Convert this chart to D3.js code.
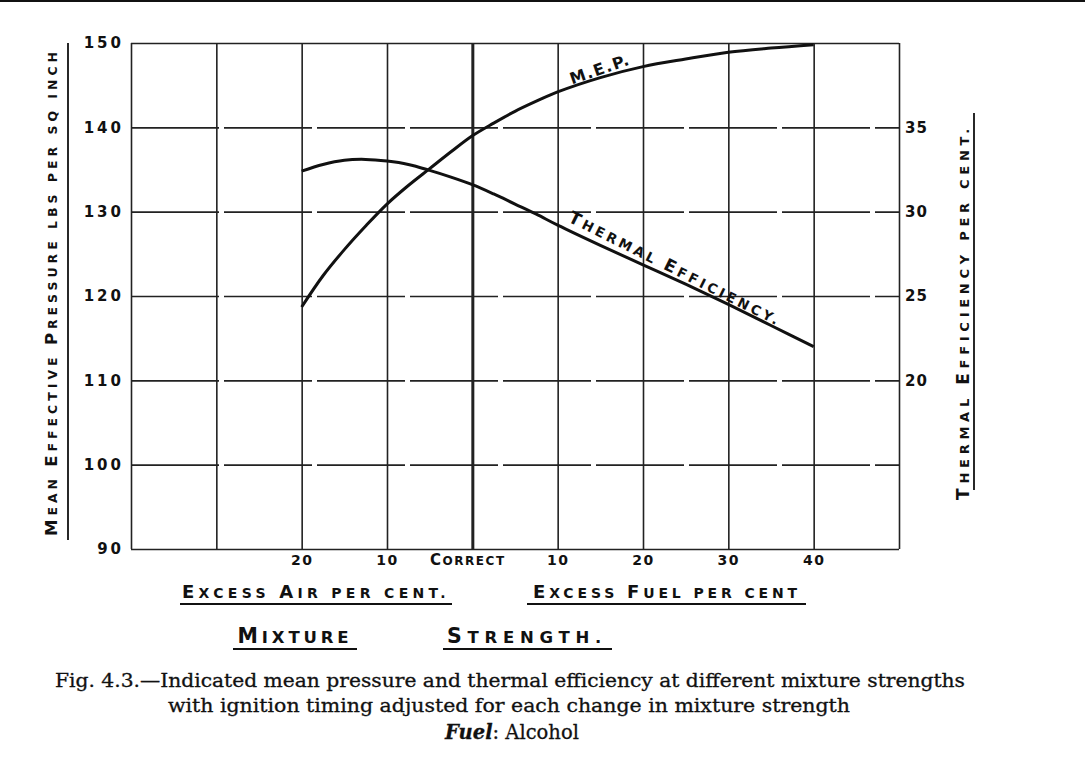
<!DOCTYPE html>
<html>
    <head>
        <title>Mixture strength - M.E.P. and thermal efficiency</title>
        <style>
            body { margin: 0; background: #fff; }
            .hand { font-family: "DejaVu Sans", sans-serif; font-weight: bold; fill: #111; }
            .num { font-family: "DejaVu Sans", sans-serif; font-weight: bold; fill: #111; }
            .caption { font-family: "DejaVu Serif", serif; fill: #111; stroke: #111; stroke-width: 0.3; }
        </style>
        <script src="https://cdnjs.cloudflare.com/ajax/libs/d3/7.0.4/d3.min.js" charset="utf-8"></script>
    </head>
    <body>
        <div id="chart"></div>
        <script>
            // mixture strength, % (negative = excess air, positive = excess fuel)
            const mixture = [-20, -17.5, -15, -12.5, -10, -7.5, -5, -2.5, 0, 2.5, 5, 7.5, 10, 15, 20, 25, 30, 35, 40];
            // indicated mean effective pressure, lbs per sq inch
            const mep     = [118.7, 122.4, 125.5, 128.3, 130.9, 133.1, 135.1, 137.1, 139.0, 140.5, 141.9, 143.1, 144.2, 145.9, 147.2, 148.1, 148.9, 149.4, 149.8];
            // thermal efficiency, per cent
            const thermal = [32.4, 32.8, 33.05, 33.1, 33.0, 32.8, 32.45, 32.05, 31.6, 31.05, 30.45, 29.85, 29.2, 28.0, 26.85, 25.7, 24.5, 23.25, 22.0];

            const xGrid = [-40, -30, -20, -10, 0, 10, 20, 30, 40, 50];
            const xTicks = [-20, -10, 0, 10, 20, 30, 40];
            const xTickLabels = ["20", "10", "Correct", "10", "20", "30", "40"];
            const mepTicks = [90, 100, 110, 120, 130, 140, 150];
            const effTicks = [20, 25, 30, 35];

            const W = 1085, H = 760;
            const plotL = 131, plotR = 899, plotT = 43, plotB = 549;

            const svg = d3.select("#chart").append("svg")
                .attr("width", W)
                .attr("height", H);

            // scanned page edge along the top
            svg.append("rect").attr("x", 0).attr("y", 0).attr("width", W).attr("height", 2).attr("fill", "#111");

            const x = d3.scaleLinear().domain([-40, 50]).range([plotL, plotR]);
            const y = d3.scaleLinear().domain([90, 150]).range([plotB, plotT]);
            const yEff = d3.scaleLinear().domain([10, 40]).range([plotB, plotT]);

            // hand lettered small caps: a capital in the string is drawn big, everything else as small capitals
            function smallCaps(t, str, big, small, target) {
                t.text(null);
                str.split("").forEach((ch) => {
                    const isBig = ch !== ch.toLowerCase();
                    t.append("tspan").attr("font-size", isBig ? big : small).text(ch.toUpperCase());
                });
                if (target) {
                    const w = t.node().getComputedTextLength();
                    t.attr("letter-spacing", (target - w) / str.length);
                }
                return t;
            }

            // horizontal grid + left numbers
            const yAxis = svg.append("g")
                .attr("transform", "translate(" + plotL + ",0)")
                .call(d3.axisLeft(y).tickValues(mepTicks).tickSize(-(plotR - plotL)).tickSizeOuter(0).tickPadding(7));
            yAxis.select(".domain").remove();
            yAxis.selectAll(".tick line")
                .attr("stroke", "#222")
                .attr("stroke-width", 1.6)
                .attr("stroke-dasharray", (d) => (d == 90 || d == 150) ? null : "88,5");
            yAxis.selectAll(".tick text")
                .attr("class", "num")
                .attr("font-size", 15)
                .attr("letter-spacing", 3)
                .attr("fill", "#111");

            // vertical grid
            const xGridG = svg.append("g")
                .attr("transform", "translate(0," + plotB + ")")
                .call(d3.axisBottom(x).tickValues(xGrid).tickSize(-(plotB - plotT)).tickSizeOuter(0).tickFormat(""));
            xGridG.select(".domain").remove();
            xGridG.selectAll(".tick line")
                .attr("stroke", "#222")
                .attr("stroke-width", (d) => d == 0 ? 3 : 1.6);

            // bottom labels
            const xAxis = svg.append("g")
                .attr("transform", "translate(0," + plotB + ")")
                .call(d3.axisBottom(x).tickValues(xTicks).tickSize(0).tickPadding(6)
                    .tickFormat((d, i) => xTickLabels[i]));
            xAxis.select(".domain").remove();
            xAxis.selectAll(".tick text")
                .attr("class", "hand")
                .attr("font-size", 14)
                .attr("letter-spacing", 1.5)
                .attr("fill", "#111")
                .attr("dx", (d) => d == 0 ? -5 : 0)
                .each(function (d, i) {
                    if (d == 0) smallCaps(d3.select(this), xTickLabels[i], 15, 12, 86);
                });

            // right axis numbers
            const rAxis = svg.append("g")
                .attr("transform", "translate(" + plotR + ",0)")
                .call(d3.axisRight(yEff).tickValues(effTicks).tickSize(0).tickPadding(6));
            rAxis.select(".domain").remove();
            rAxis.selectAll(".tick text")
                .attr("class", "num")
                .attr("font-size", 15)
                .attr("letter-spacing", 1)
                .attr("fill", "#111");

            // curves
            const pts = mixture.map((m, i) => ({ m: m, p: mep[i], e: thermal[i] }));
            const mepLine = d3.line().x((d) => x(d.m)).y((d) => y(d.p)).curve(d3.curveCatmullRom.alpha(0.5));
            const effLine = d3.line().x((d) => x(d.m)).y((d) => yEff(d.e)).curve(d3.curveCatmullRom.alpha(0.5));

            svg.append("path").datum(pts).attr("d", mepLine)
                .attr("fill", "none").attr("stroke", "#111").attr("stroke-width", 3);
            svg.append("path").datum(pts).attr("d", effLine)
                .attr("fill", "none").attr("stroke", "#111").attr("stroke-width", 3);

            // curve labels
            svg.append("text").attr("class", "hand")
                .attr("transform", "translate(" + (x(14.8) + 3) + "," + (y(146.4) + 1) + ") rotate(-19)")
                .attr("text-anchor", "middle")
                .attr("font-size", 16)
                .attr("letter-spacing", 1.5)
                .text("M.E.P.");
            smallCaps(svg.append("text").attr("class", "hand")
                .attr("transform", "translate(" + x(23.5) + "," + (yEff(26.05) - 4.5) + ") rotate(26.5)")
                .attr("text-anchor", "middle"), "Thermal Efficiency.", 17, 13.5, 236);

            // axis titles
            smallCaps(svg.append("text").attr("class", "hand")
                .attr("transform", "translate(57,292) rotate(-90)")
                .attr("text-anchor", "middle"), "Mean Effective Pressure lbs per sq inch", 16.5, 12.5, 488);
            svg.append("line").attr("x1", 68).attr("x2", 68).attr("y1", 43).attr("y2", 540)
                .attr("stroke", "#111").attr("stroke-width", 1.8);

            smallCaps(svg.append("text").attr("class", "hand")
                .attr("transform", "translate(969,312) rotate(-90)")
                .attr("text-anchor", "middle"), "Thermal Efficiency per cent.", 17, 13, 376);
            svg.append("line").attr("x1", 974).attr("x2", 974).attr("y1", 113).attr("y2", 490)
                .attr("stroke", "#111").attr("stroke-width", 1.8);

            // x axis titles, underlined
            function underlined(txt, cx, cy, len, big, small, lineY, x1, x2) {
                smallCaps(svg.append("text").attr("class", "hand")
                    .attr("x", cx).attr("y", cy)
                    .attr("text-anchor", "middle"), txt, big, small, len);
                svg.append("line").attr("x1", x1).attr("x2", x2).attr("y1", lineY).attr("y2", lineY)
                    .attr("stroke", "#111").attr("stroke-width", 1.8);
            }
            underlined("Excess Air per cent.", 316, 598, 268, 18, 14, 604, 180, 452);
            underlined("Excess Fuel per cent", 667, 598, 268, 18, 14, 604, 527, 806);
            underlined("Mixture", 295, 643, 115, 20.5, 16.5, 649, 233, 357);
            underlined("Strength.", 527, 643, 160, 20.5, 16.5, 649, 443, 612);

            // caption
            svg.append("text").attr("class", "caption")
                .attr("x", 510).attr("y", 687)
                .attr("text-anchor", "middle")
                .attr("font-size", 18)
                .attr("textLength", 910)
                .attr("lengthAdjust", "spacingAndGlyphs")
                .text("Fig. 4.3.\u2014Indicated mean pressure and thermal efficiency at different mixture strengths");
            svg.append("text").attr("class", "caption")
                .attr("x", 509).attr("y", 712)
                .attr("text-anchor", "middle")
                .attr("font-size", 18)
                .attr("textLength", 682)
                .attr("lengthAdjust", "spacingAndGlyphs")
                .text("with ignition timing adjusted for each change in mixture strength");
            const fuel = svg.append("text").attr("class", "caption")
                .attr("x", 512).attr("y", 739)
                .attr("text-anchor", "middle")
                .attr("font-size", 19.5);
            fuel.append("tspan").attr("font-style", "italic").attr("font-weight", "bold").text("Fuel");
            fuel.append("tspan").text(":  Alcohol");
        </script>
    </body>
</html>
